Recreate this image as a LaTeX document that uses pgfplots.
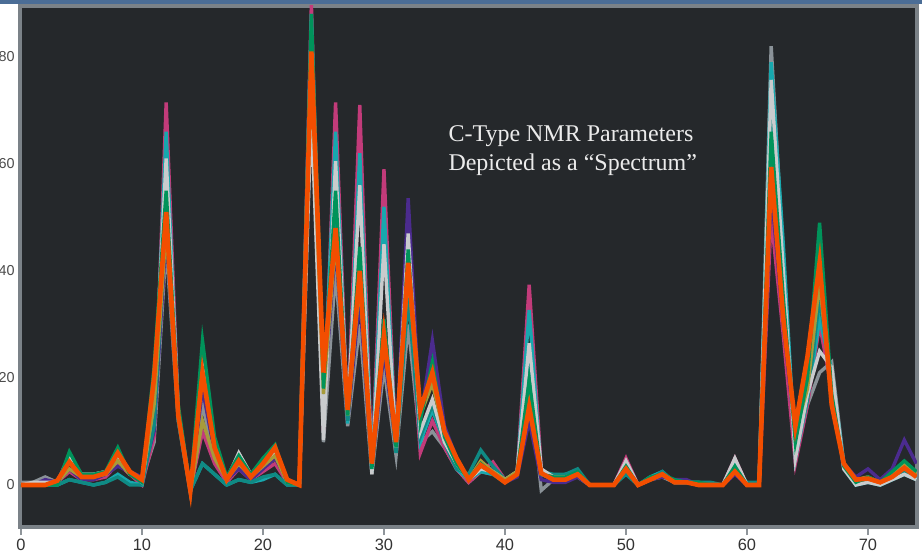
\documentclass[border=0pt]{standalone}
\usepackage{fontspec}
\setmainfont{Liberation Serif}
\setsansfont{Liberation Sans}
\usepackage{pgfplots}
\usepackage{pgfplotstable}
\pgfplotsset{compat=1.18}

\definecolor{plotbg}{HTML}{25282B}
\definecolor{frame}{HTML}{7B8288}
\definecolor{strip}{HTML}{4B6D96}
\definecolor{cMag}{HTML}{C23B7A}
\definecolor{cTeal}{HTML}{17A8AE}
\definecolor{cLgray}{HTML}{C9CBCD}
\definecolor{cGreen}{HTML}{00935A}
\definecolor{cPurple}{HTML}{4B2B8E}
\definecolor{cDteal}{HTML}{0F8A84}
\definecolor{cGray}{HTML}{8A9298}
\definecolor{cOlive}{HTML}{A79B3A}
\definecolor{cOrange}{HTML}{F24E00}

% shift-by-shift parameter values, one column per series
\pgfplotstableread{
x  M    T    LG   G    P    DT   GR   OL   O
0  0    0    0    0    0    0    0.5  0    0
1  0    0    0.5  0    0    0    0.5  0    0
2  0.5  0    0.5  0    1    0    1.5  0    0
3  0.5  0    0.5  0    0.5  0    0.5  0.5  0.8
4  2.5  1    5.5  6.2  3    1    4.5  3    4.3
5  1    0.5  2    2    1    0.5  2    1.5  1.5
6  1    0    2    2    1    0    2    1.5  1.5
7  1.5  0.5  2.5  2.5  2    0.5  2.5  2    2.2
8  4    2    5.5  7    3.5  1.5  4.5  4.5  6
9  2    0.5  2.5  2    2.5  0    2    2    2.5
10 0    0    0.5  0.5  1.5  0    1    1    1
11 9    12   16   22   10   11   8    15   20
12 71.5 66   61   55   47   50   45   48   51
13 14   13   14   15   13   12   12   13   13
14 -1   -1   -1   -1   -1   -1   -1.5 -1   -1
15 10   4    22   27   18   4    15   12   21
16 4    2    8    9    6    2    5    5    7
17 0.5  0    1    1.5  1    0    0.5  1    1
18 3    1    6    5.5  3    1    3.5  4    4.5
19 1    0.5  2    2    1    0.5  1.5  1.5  1.5
20 2.5  1    4.5  5    3    1.5  3    3.5  4
21 4    2    6    7.5  5    2    5    5.5  7
22 0.5  0    1    0.5  1    0    0.5  0.5  1
23 0    0    0    0    0    0    0    0    0
24 90   88   70   88   75   80   85   78   81
25 10   14   8.4  18   15   16   8    17   21
26 71.5 66   60.5 55   45   50   40   46   48
27 12   11.5 13   13   12   12   11   13   14
28 71   62   56   44.5 35   40   30   38   40
29 3    2.5  2    3    3    2.5  2    3.5  4
30 59   52   45   31   25   30   22   27   28
31 6    6    7    7    7    6    5.5  7.5  8
32 38   44   47   44   53.6 35   30   40   41.5
33 6    8    10   12   12   9    8    13   14
34 12   14   16   23   27   15   10   19   21
35 7    8    8    9    11   8    7    9.5  10
36 3    3    4    4    5    3    3    4.5  5
37 0.5  1    1    1    1    2    0.5  1    1
38 2.5  2.5  3    4    3    6.5  2.5  4.5  3.7
39 4.3  2    2.5  2    3    3.5  2    2.5  2.2
40 1    0.5  1    0.5  0.5  1    1    1    0.5
41 2    2    2.5  2    1.5  2.5  2    2.5  2
42 37.4 32.7 26.5 19.6 12   22   20   17   14.6
43 3    2    3    2    1    2.5  -1   2    2.2
44 1    1    1.5  1.5  0.5  2    1    1.5  1
45 1    2    1.5  1.5  0.5  2    1    1.5  1
46 2    2.5  2    2.5  1.5  3    1.5  2    2
47 0    0    0    0    0    0    0    0    0
48 0    0    0    0    0    0    0    0    0
49 0    0    0    0    0    0    0    0    0
50 5    4    4.5  3.5  2.5  2    3.5  3    3
51 0    0    0    0    0    0    0    0    0
52 1    1.5  1    1.5  1    1    1    1    1
53 2    2.5  2    2    1.5  2.5  1.5  2    2
54 0.5  0.5  0.5  1    1    0.5  0.5  0.5  0.5
55 0.5  0.5  0.5  0.5  1    0.5  0.5  0.5  0.5
56 0    0.5  0    0.5  0    0.5  0    0    0
57 0    0    0    0    0    0.5  0    0    0
58 0    0    0    0    0    0    0    0    0
59 5    4    5    3.5  2    3    3.5  2.5  2.5
60 0    0    0    0    0    0.5  0    0    0
61 0    0    0    0    0    0.5  0    0    0
62 50   79   75.7 66   55   70   82   60   59.4
63 28   45   40   35   30   38   42   32   31
64 4    5    5    8    9    6    5    10   11
65 15   16   17   20   19.6 16   15   18   24
66 30   31   25   49   46   35   21   38   41.5
67 18   21.5 22   17   15   19   23   16   15
68 3    4    3    3.5  4    3    4    4    4
69 0.5  0    0    0.5  1.5  0    0.5  1    1
70 1    0.5  0.5  1.5  3    1    0.5  1.5  1.2
71 0.5  0    0    0.5  1    0    0    0.5  0.5
72 2    1    1    2.5  3    1    1    2    1.5
73 4    2    2    4.5  8.4  2.5  2    4    3.2
74 2    1    1    2.5  4    1    1    2    1.5
}\nmrdata

\begin{document}
\begin{tikzpicture}
\fill[white] (0,0) rectangle (461pt,279pt);
\begin{axis}[
    at={(10pt,15.5pt)}, anchor=south west,
    scale only axis,
    width=448.5pt, height=260.5pt,
    xmin=-0.08, xmax=74.05,
    ymin=-7.85, ymax=89.5,
    xtick={0,10,...,70},
    ytick={0,20,40,60,80},
    axis background/.style={fill=plotbg},
    axis line style={draw=frame, line width=2pt},
    tick align=outside,
    major tick length=4pt,
    xtick style={draw=frame!85!white, line width=1.2pt},
    ytick style={draw=none},
    xtick pos=bottom,
    ytick pos=left,
    /pgf/number format/assume math mode=true,
    xticklabel style={font=\sffamily\fontsize{8.2}{9}\selectfont, text=black!80, anchor=north, inner sep=0pt, yshift=-1.8pt},
    yticklabel style={font=\sffamily\fontsize{7.2}{8}\selectfont, text=black!70, anchor=east, inner sep=0pt, xshift=1.5pt},
    every axis plot/.append style={line width=1.7pt, no markers},
    clip=true,
]
\addplot[cGray]   table[x=x, y=GR] {\nmrdata};
\addplot[cMag]    table[x=x, y=M]  {\nmrdata};
\addplot[cPurple] table[x=x, y=P]  {\nmrdata};
\addplot[cTeal]   table[x=x, y=T]  {\nmrdata};
\addplot[cDteal]  table[x=x, y=DT] {\nmrdata};
\addplot[cLgray]  table[x=x, y=LG] {\nmrdata};
\addplot[cOlive]  table[x=x, y=OL] {\nmrdata};
\addplot[cGreen]  table[x=x, y=G]  {\nmrdata};
\addplot[cOrange, line width=2.3pt] table[x=x, y=O] {\nmrdata};
\node[anchor=west, align=left, inner sep=0pt, text=white!92!black,
      font=\fontsize{12}{14.5}\selectfont] at (axis cs:35.3,62.4)
      {C-Type NMR Parameters\\Depicted as a “Spectrum”};
\end{axis}
\fill[strip] (0,277pt) rectangle (461pt,279pt);
\pgfresetboundingbox
\useasboundingbox (0,0) rectangle (461pt,279pt);
\end{tikzpicture}
\end{document}
